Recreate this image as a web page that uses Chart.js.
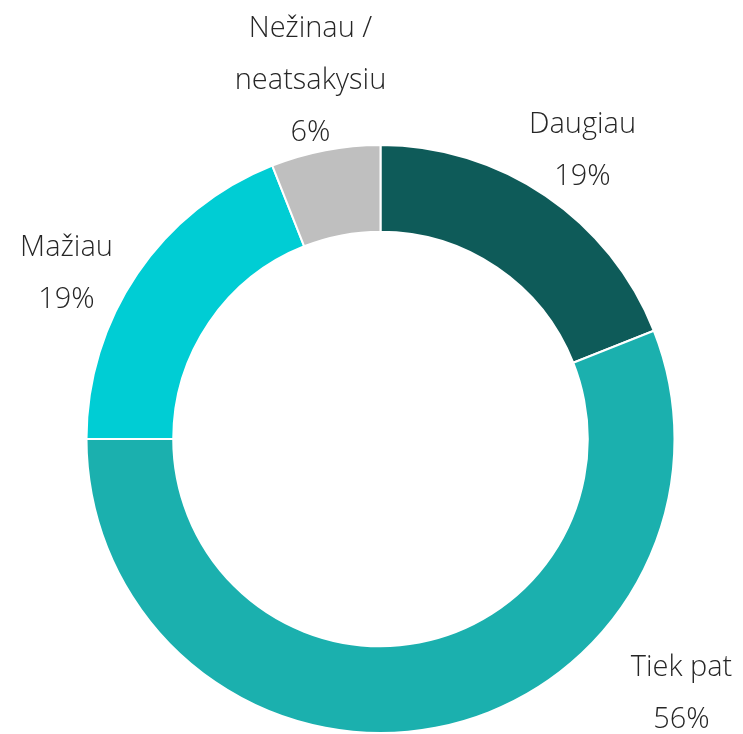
<!DOCTYPE html>
<html>
<head>
<meta charset="utf-8">
<script src="https://cdn.jsdelivr.net/npm/chart.js@4.4.0/dist/chart.umd.min.js"></script>
<style>
  html, body { margin: 0; padding: 0; background: #fff; }
  #wrap { width: 743px; height: 734px; }
</style>
</head>
<body>
<div id="wrap"><canvas id="grafikas" width="743" height="734"></canvas></div>
<script>
const kategorijos = ["Daugiau", "Tiek pat", "Mažiau", "Nežinau / neatsakysiu"];
const reiksmes = [19, 56, 19, 6];
const etiketes = [["Daugiau", "19%"], ["Tiek pat", "56%"], ["Mažiau", "19%"], ["Nežinau /", "neatsakysiu", "6%"]];
const spalvos = ["#0e5b59", "#1bb0ae", "#00cdd4", "#bfbfbf"];

// etikečių vietos (poslinkis nuo centro, px)
const etikeciuVieta = [[202, -288], [301, 255], [-314, -165], [-70, -358]];

const etiketesPlugin = {
  id: "etiketes",
  afterDraw(chart) {
    const ctx = chart.ctx;
    const arc = chart.getDatasetMeta(0).data[0];
    const cx = arc.x, cy = arc.y;
    const eil = 52;
    ctx.save();
    ctx.font = "300 29px 'Segoe UI Light', 'Open Sans Light', Lato, 'Open Sans', sans-serif";
    ctx.fillStyle = "#262626";
    ctx.textAlign = "center";
    ctx.textBaseline = "middle";
    etiketes.forEach((lines, i) => {
      const [dx, dy] = etikeciuVieta[i];
      const y0 = cy + dy - (lines.length - 1) * eil / 2;
      lines.forEach((t, j) => ctx.fillText(t, cx + dx, y0 + j * eil));
    });
    ctx.restore();
  }
};

new Chart(document.getElementById("grafikas"), {
  type: "doughnut",
  data: {
    labels: kategorijos,
    datasets: [{
      data: reiksmes,
      backgroundColor: spalvos,
      borderColor: "#ffffff",
      borderWidth: 2
    }]
  },
  options: {
    responsive: false,
    animation: false,
    cutout: "70.5%",
    layout: { padding: { left: 82, right: 64, top: 144, bottom: -7 } },
    plugins: {
      legend: { display: false },
      tooltip: { enabled: false }
    }
  },
  plugins: [etiketesPlugin]
});
</script>
</body>
</html>
